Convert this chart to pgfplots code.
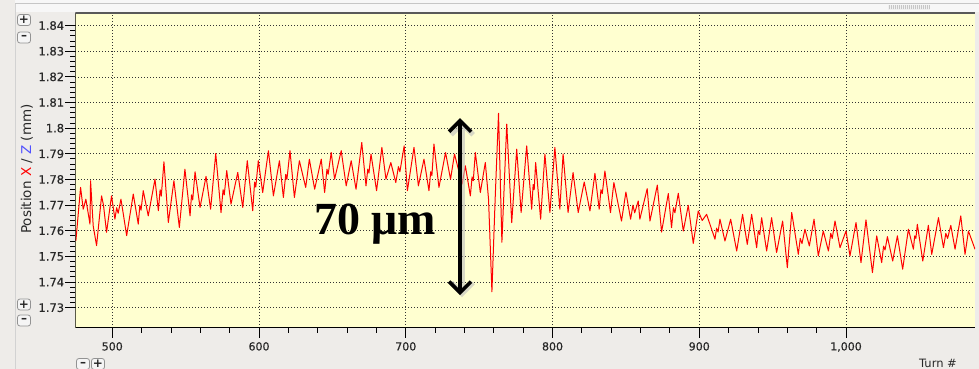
\documentclass[border=0pt]{standalone}
\usepackage{fontspec}
\setmainfont{DejaVu Sans}
\newfontfamily\serifb{Liberation Serif}
\newfontfamily\tickfont[FakeBold=0.5]{DejaVu Sans}
\usepackage{pgfplots}
\pgfplotsset{compat=1.18}
\usetikzlibrary{arrows.meta}
\definecolor{plotbg}{RGB}{255,255,208}
\definecolor{winbg}{RGB}{238,236,233}
\definecolor{labgray}{RGB}{40,40,40}
\definecolor{zblue}{RGB}{80,80,255}
\newcommand{\btn}[3]{\node[draw=gray!85, line width=0.8pt, fill=white!92!gray, rounded corners=2.5pt, minimum width=13pt, minimum height=11pt, inner sep=0pt, font=\fontsize{12}{12}\selectfont\bfseries, text=black!85] at (#1,#2) {#3};}
\begin{document}
\begin{tikzpicture}[x=1pt,y=1pt]
\useasboundingbox (0,0) rectangle (979,369);
\fill[winbg] (0,0) rectangle (979,369);
\fill[gray!6] (15,357) rectangle (979,369);
\draw[gray!45, line width=1pt] (15,365) -- (979,365);
\draw[gray!35, line width=1pt] (15,0) -- (15,365);
\fill[gray!12] (888,359) rectangle (930,364);
\foreach \i in {889,891,...,929} {\draw[gray!45, line width=0.6pt] (\i,359.5) -- (\i,363.5);}
\begin{axis}[at={(75.3pt,41.3pt)}, anchor=south west,
  width=899.7pt, height=314.7pt, scale only axis,
  xmin=474.8, xmax=1087.9, ymin=1.7222, ymax=1.8449,
  axis background/.style={fill=plotbg},
  axis line style={draw=none},
  tick align=outside, tick pos=left,
  major tick length=10pt, minor tick length=5pt,
  every tick/.style={black, line width=0.9pt},
  xtick={500,600,700,800,900,1000},
  xticklabels={500,600,700,800,900,{1,000}},
  minor x tick num=4,
  ytick={1.73,1.74,1.75,1.76,1.77,1.78,1.79,1.80,1.81,1.82,1.83,1.84},
  yticklabels={1.73,1.74,1.75,1.76,1.77,1.78,1.79,1.8,1.81,1.82,1.83,1.84},
  minor y tick num=4,
  xticklabel style={font=\tickfont\fontsize{11}{11}\selectfont, text=labgray, yshift=-1pt},
  yticklabel style={font=\tickfont\fontsize{11.5}{11.5}\selectfont, text=labgray, inner sep=1pt},
  grid=major,
  major grid style={black!80, line width=0.7pt, dash pattern=on 1pt off 2pt},
  clip=true,
]
\addplot[red, line width=1pt, line join=round] table {
475.2 1.7561
478.4 1.7769
480.2 1.7684
482.0 1.7723
484.8 1.7626
485.2 1.7795
487.0 1.7619
489.3 1.7542
492.7 1.7736
494.0 1.7700
496.1 1.7594
499.5 1.7736
501.8 1.7645
503.0 1.7690
504.0 1.7668
505.9 1.7723
507.0 1.7684
509.8 1.7581
514.3 1.7743
517.7 1.7626
518.8 1.7700
519.6 1.7680
521.1 1.7756
524.5 1.7658
529.1 1.7801
531.4 1.7678
532.6 1.7760
533.4 1.7735
535.2 1.7869
538.2 1.7632
542.0 1.7795
545.7 1.7613
549.5 1.7840
553.0 1.7658
554.0 1.7740
554.8 1.7720
556.4 1.7830
559.8 1.7691
563.9 1.7812
567.0 1.7684
570.5 1.7901
574.1 1.7671
575.5 1.7760
576.3 1.7740
578.0 1.7834
580.9 1.7704
585.5 1.7827
588.9 1.7691
592.0 1.7873
595.7 1.7678
597.0 1.7790
597.8 1.7770
599.5 1.7873
602.5 1.7749
606.4 1.7912
609.8 1.7736
613.9 1.7873
616.6 1.7730
618.2 1.7820
619.0 1.7800
621.1 1.7912
624.1 1.7730
627.5 1.7873
631.8 1.7769
634.3 1.7879
637.9 1.7762
642.4 1.7879
644.7 1.7749
646.3 1.7840
647.1 1.7820
649.2 1.7905
651.5 1.7801
656.0 1.7912
659.4 1.7775
662.8 1.7873
666.1 1.7762
670.0 1.7944
672.9 1.7775
674.1 1.7840
674.9 1.7825
676.3 1.7899
680.1 1.7756
683.7 1.7925
686.5 1.7801
689.8 1.7866
693.2 1.7788
695.0 1.7850
696.0 1.7830
698.9 1.7931
701.1 1.7756
705.6 1.7925
708.6 1.7775
712.4 1.7879
715.8 1.7756
717.0 1.7830
717.8 1.7815
719.2 1.7938
722.6 1.7769
727.1 1.7905
730.5 1.7801
733.2 1.7899
738.4 1.7782
740.6 1.7853
744.0 1.7736
745.2 1.7810
746.0 1.7795
747.4 1.7905
750.8 1.7749
754.2 1.7866
756.4 1.7723
758.7 1.7362
760.9 1.7723
763.2 1.8058
765.5 1.7555
768.8 1.8016
772.2 1.7632
775.6 1.7918
778.6 1.7671
782.4 1.7931
785.8 1.7684
786.8 1.7780
787.5 1.7760
788.5 1.7866
791.9 1.7645
794.8 1.7899
798.2 1.7671
801.6 1.7925
805.0 1.7684
807.2 1.7899
810.6 1.7671
814.0 1.7827
817.5 1.7671
821.6 1.7790
825.5 1.7677
828.9 1.7824
831.8 1.7684
833.0 1.7760
833.9 1.7745
835.7 1.7833
839.5 1.7671
841.8 1.7788
847.0 1.7638
850.0 1.7751
853.2 1.7645
854.8 1.7700
856.0 1.7670
858.4 1.7716
859.5 1.7645
864.5 1.7764
866.4 1.7638
871.4 1.7778
874.3 1.7595
878.9 1.7745
881.1 1.7612
882.4 1.7690
883.4 1.7670
885.7 1.7746
889.1 1.7599
892.5 1.7699
895.9 1.7551
899.3 1.7677
902.0 1.7640
905.0 1.7664
910.7 1.7567
911.8 1.7610
912.8 1.7595
914.1 1.7645
917.5 1.7560
921.4 1.7645
925.5 1.7521
929.5 1.7664
932.7 1.7547
935.7 1.7664
939.1 1.7534
940.2 1.7600
941.2 1.7585
942.5 1.7651
945.9 1.7521
949.3 1.7651
952.7 1.7515
956.8 1.7638
960.0 1.7456
963.0 1.7671
967.5 1.7508
968.8 1.7570
970.0 1.7550
972.0 1.7606
975.0 1.7541
978.2 1.7645
981.1 1.7502
984.5 1.7599
988.0 1.7521
989.6 1.7590
990.6 1.7570
992.5 1.7638
995.9 1.7534
1000.0 1.7599
1002.7 1.7502
1006.8 1.7632
1010.2 1.7476
1013.6 1.7642
1018.0 1.7437
1020.9 1.7580
1024.3 1.7476
1025.6 1.7540
1026.6 1.7525
1028.2 1.7577
1031.8 1.7482
1035.0 1.7580
1038.6 1.7450
1042.5 1.7606
1045.9 1.7528
1046.8 1.7580
1047.6 1.7570
1048.6 1.7625
1052.3 1.7482
1056.1 1.7621
1058.4 1.7508
1063.0 1.7651
1066.4 1.7534
1068.0 1.7590
1069.2 1.7570
1071.4 1.7621
1074.3 1.7528
1078.2 1.7658
1081.1 1.7508
1083.4 1.7599
1087.9 1.7528
};
\draw[black, line width=1.4pt] (rel axis cs:0,1) -- (rel axis cs:0,0) -- (rel axis cs:1,0);
\draw[black!65, line width=1.8pt] (rel axis cs:0,1) -- (rel axis cs:1,1);
% arrow shadow
\draw[black!25, opacity=0.6, line width=5pt, -{Straight Barb[length=11pt,width=22pt]}]
  ([xshift=2pt,yshift=-2pt]axis cs:737,1.7700) -- ([xshift=2pt,yshift=-2pt]axis cs:737,1.8039);
\draw[black!25, opacity=0.6, line width=5pt, -{Straight Barb[length=11pt,width=22pt]}]
  ([xshift=2pt,yshift=-2pt]axis cs:737,1.7700) -- ([xshift=2pt,yshift=-2pt]axis cs:737,1.7349);
\draw[black, line width=3.6pt, -{Straight Barb[length=11pt,width=22pt]}] (axis cs:737,1.7700) -- (axis cs:737,1.8039);
\draw[black, line width=3.6pt, -{Straight Barb[length=11pt,width=22pt]}] (axis cs:737,1.7700) -- (axis cs:737,1.7349);
\node[inner sep=0pt, text=black, font=\serifb\bfseries\fontsize{46}{46}\selectfont] at (axis cs:679.0,1.7626) {70 μm};
\end{axis}
\node[rotate=90, font=\fontsize{13.5}{13.5}\selectfont, text=labgray] at (27,200) {Position \textcolor{red}{X} / \textcolor{zblue}{Z} (mm)};
\node[font=\fontsize{11.5}{11.5}\selectfont, text=labgray, anchor=base] at (938,1) {Turn \#};
\btn{24}{349}{+}
\btn{24}{331.5}{–}
\btn{24}{64.5}{+}
\btn{24}{48.5}{–}
\btn{83}{5}{–}
\btn{98}{5}{+}
\end{tikzpicture}
\end{document}
